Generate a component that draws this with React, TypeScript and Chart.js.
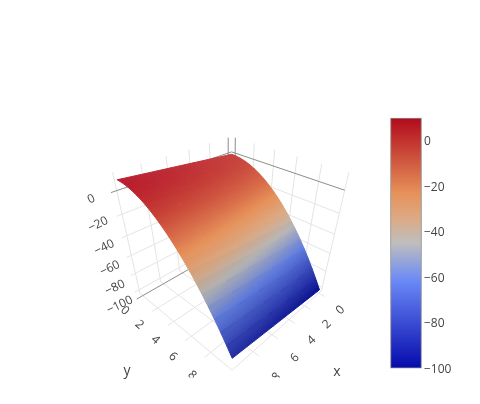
import React, { useEffect, useRef } from "react";
import { Chart, registerables } from "chart.js";

Chart.register(...registerables);

const xColumns = [0, 2, 4, 6, 8, 10];
const yRows = [0, 0.5, 1, 1.5, 2, 2.5, 3, 3.5, 4, 4.5, 5, 5.5, 6, 6.5, 7, 7.5, 8, 8.5, 9, 9.5, 10];
const zRows = [
  [0, 2, 4, 6, 8, 10],
  [-0.25, 1.75, 3.75, 5.75, 7.75, 9.75],
  [-1, 1, 3, 5, 7, 9],
  [-2.25, -0.25, 1.75, 3.75, 5.75, 7.75],
  [-4, -2, 0, 2, 4, 6],
  [-6.25, -4.25, -2.25, -0.25, 1.75, 3.75],
  [-9, -7, -5, -3, -1, 1],
  [-12.25, -10.25, -8.25, -6.25, -4.25, -2.25],
  [-16, -14, -12, -10, -8, -6],
  [-20.25, -18.25, -16.25, -14.25, -12.25, -10.25],
  [-25, -23, -21, -19, -17, -15],
  [-30.25, -28.25, -26.25, -24.25, -22.25, -20.25],
  [-36, -34, -32, -30, -28, -26],
  [-42.25, -40.25, -38.25, -36.25, -34.25, -32.25],
  [-49, -47, -45, -43, -41, -39],
  [-56.25, -54.25, -52.25, -50.25, -48.25, -46.25],
  [-64, -62, -60, -58, -56, -54],
  [-72.25, -70.25, -68.25, -66.25, -64.25, -62.25],
  [-81, -79, -77, -75, -73, -71],
  [-90.25, -88.25, -86.25, -84.25, -82.25, -80.25],
  [-100, -98, -96, -94, -92, -90],
];
const xTicks = [0, 2, 4, 6, 8];
const yTicks = [0, 2, 4, 6, 8];
const xGrid = [0, 2, 4, 6, 8, 10];
const yGrid = [0, 2, 4, 6, 8, 10];
const zTicks = [0, -20, -40, -60, -80, -100];
const colorStops: [number, number[]][] = [
  [0, [5, 10, 172]],
  [0.35, [106, 137, 247]],
  [0.5, [190, 190, 190]],
  [0.6, [220, 170, 132]],
  [0.7, [230, 145, 90]],
  [1, [178, 10, 28]],
];
const zMin = -100;
const zMax = 10;
const loX = -0.4, loY = -0.4, loZ = -104.4, hiZ = 14.4;

// Camera calibration: world point -> page pixel
const calib: number[][] = [
  [0, 10, -100, 320, 294],
  [10, 10, -90, 232, 367],
  [10, 0, 10, 117, 177],
  [0, 0, 0, 232, 151],
  [10, loY, hiZ, 113, 172],
  [0, loY, hiZ, 228, 135],
  [loX, 0, hiZ, 235, 135],
  [loX, 10, hiZ, 349, 171],
  [10, 10, loZ, 232, 377],
  [10, loY, loZ, 140, 298],
  [loX, 10, loZ, 321, 295],
];

function solveCamera(): number[] {
  const rows: number[][] = [];
  const rhs: number[] = [];
  for (const [x, y, z, u0, v0] of calib) {
    const X = x / 10, Y = y / 10, Z = (z + 100) / 100, u = u0 / 100, v = v0 / 100;
    rows.push([X, Y, Z, 1, 0, 0, 0, 0, -u * X, -u * Y, -u * Z]);
    rhs.push(u);
    rows.push([0, 0, 0, 0, X, Y, Z, 1, -v * X, -v * Y, -v * Z]);
    rhs.push(v);
  }
  const n = 11;
  const A: number[][] = [];
  for (let i = 0; i < n; i++) {
    const line = new Array(n + 1).fill(0);
    rows.forEach((r, k) => {
      for (let j = 0; j < n; j++) line[j] += r[i] * r[j];
      line[n] += r[i] * rhs[k];
    });
    A.push(line);
  }
  for (let i = 0; i < n; i++) {
    let best = i;
    for (let k = i + 1; k < n; k++) if (Math.abs(A[k][i]) > Math.abs(A[best][i])) best = k;
    [A[i], A[best]] = [A[best], A[i]];
    for (let k = 0; k < n; k++) {
      if (k === i) continue;
      const f = A[k][i] / A[i][i];
      for (let j = i; j <= n; j++) A[k][j] -= f * A[i][j];
    }
  }
  return A.map((l, i) => l[n] / l[i]);
}

const cam = solveCamera();
function project(x: number, y: number, z: number) {
  const X = x / 10, Y = y / 10, Z = (z + 100) / 100;
  const w = cam[8] * X + cam[9] * Y + cam[10] * Z + 1;
  return {
    x: (100 * (cam[0] * X + cam[1] * Y + cam[2] * Z + cam[3])) / w,
    y: (100 * (cam[4] * X + cam[5] * Y + cam[6] * Z + cam[7])) / w,
  };
}

// Surface lighting: flat top washes out a little, steep bottom falls darker.
function shade(c: number[], y: number) {
  const t = y / 10;
  if (t < 0.4) {
    const m = 0.09 * (1 - t / 0.4);
    return c.map((v) => v + (255 - v) * m);
  }
  if (t > 0.6) {
    const m = 1 - 0.2 * ((t - 0.6) / 0.4);
    return c.map((v) => v * m);
  }
  return c;
}

function colorAt(z: number, y: number) {
  const t = Math.min(1, Math.max(0, (z - zMin) / (zMax - zMin)));
  let col = colorStops[colorStops.length - 1][1];
  for (let i = 1; i < colorStops.length; i++) {
    if (t <= colorStops[i][0]) {
      const [a, ca] = colorStops[i - 1];
      const [b, cb] = colorStops[i];
      const f = (t - a) / (b - a);
      col = ca.map((v, k) => v + (cb[k] - v) * f);
      break;
    }
  }
  const c = shade(col, y).map((v) => Math.round(v));
  return `rgb(${c[0]},${c[1]},${c[2]})`;
}

const GRID = "rgb(228,228,228)";
const ZERO = "rgb(140,140,140)";

function lineSet(a: number[], b: number[], color: string, order: number) {
  return {
    type: "scatter",
    showLine: true,
    data: [project(a[0], a[1], a[2]), project(b[0], b[1], b[2])],
    borderColor: color,
    borderWidth: 1,
    pointRadius: 0,
    fill: false,
    order,
  };
}

function gridSets() {
  const out: any[] = [];
  const floorEnd = (v: number) => (v === 10 ? 10 : 10.55);
  for (const v of xGrid) {
    const c = v === 0 ? ZERO : GRID;
    const o = v === 0 ? 900 : 1000;
    out.push(lineSet([v, loY, loZ], [v, loY, hiZ], c, o));
    out.push(lineSet([v, loY, loZ], [v, floorEnd(v), loZ], GRID, 1000));
  }
  for (const v of yGrid) {
    const c = v === 0 ? ZERO : GRID;
    const o = v === 0 ? 900 : 1000;
    out.push(lineSet([loX, v, loZ], [loX, v, hiZ], c, o));
    out.push(lineSet([loX, v, loZ], [floorEnd(v), v, loZ], c, o));
  }
  for (const v of zTicks) {
    const c = v === 0 ? ZERO : GRID;
    const o = v === 0 ? 900 : 1000;
    out.push(lineSet([loX, loY, v], [10.4, loY, v], c, o));
    out.push(lineSet([loX, loY, v], [loX, 10, v], c, o));
  }
  return out;
}

function surfaceSets(ctx: CanvasRenderingContext2D) {
  const out: any[] = [];
  for (let r = 0; r < yRows.length - 1; r++) {
    for (let c = 0; c < xColumns.length - 1; c++) {
      const za = zRows[r][c], zb = zRows[r][c + 1], zc = zRows[r + 1][c], zd = zRows[r + 1][c + 1];
      const A = project(xColumns[c], yRows[r], za);
      const B = project(xColumns[c + 1], yRows[r], zb);
      const D = project(xColumns[c + 1], yRows[r + 1], zd);
      const C = project(xColumns[c], yRows[r + 1], zc);
      const e1 = [(B.x + D.x - A.x - C.x) / 2, (B.y + D.y - A.y - C.y) / 2];
      const e2 = [(C.x + D.x - A.x - B.x) / 2, (C.y + D.y - A.y - B.y) / 2];
      const det = e1[0] * e2[1] - e1[1] * e2[0];
      const dz1 = (zb + zd - za - zc) / 2, dz2 = (zc + zd - za - zb) / 2;
      const gx = (dz1 * e2[1] - dz2 * e1[1]) / det;
      const gy = (e1[0] * dz2 - e2[0] * dz1) / det;
      const g2 = gx * gx + gy * gy;
      const mx = (A.x + B.x + C.x + D.x) / 4, my = (A.y + B.y + C.y + D.y) / 4;
      const zm = (za + zb + zc + zd) / 4;
      const lo = Math.min(za, zb, zc, zd), hi = Math.max(za, zb, zc, zd);
      const grad = ctx.createLinearGradient(
        mx + ((lo - zm) * gx) / g2,
        my + ((lo - zm) * gy) / g2,
        mx + ((hi - zm) * gx) / g2,
        my + ((hi - zm) * gy) / g2
      );
      const yMid = (yRows[r] + yRows[r + 1]) / 2;
      for (let k = 0; k <= 4; k++) {
        grad.addColorStop(k / 4, colorAt(lo + ((hi - lo) * k) / 4, yMid));
      }
      out.push({
        type: "scatter",
        showLine: true,
        data: [A, B, D, C, A],
        fill: "shape",
        backgroundColor: grad,
        borderColor: grad,
        borderWidth: 1,
        pointRadius: 0,
        order: 500 - r,
      });
    }
  }
  return out;
}

const FONT = '12px "Open Sans"';
const TEXT = "#444";
const tickText = (v: number) => (v < 0 ? "\u2212" + Math.abs(v) : String(v));

const sceneText = {
  id: "sceneText",
  afterDatasetsDraw(chart: any) {
    const c = chart.ctx as CanvasRenderingContext2D;
    c.save();
    c.beginPath();
    c.rect(0, 0, 480, 377.5);
    c.clip();
    c.fillStyle = TEXT;
    c.font = FONT;
    c.textAlign = "center";
    c.textBaseline = "middle";
    const put = (s: string, p: { x: number; y: number }, deg: number) => {
      c.save();
      c.translate(p.x, p.y);
      c.rotate((deg * Math.PI) / 180);
      c.fillText(s, 0, 0);
      c.restore();
    };
    for (const v of xTicks) put(tickText(v), project(v, 12.0, loZ), -43);
    for (const v of yTicks) put(tickText(v), project(11.6, v, loZ), 42);
    for (const v of zTicks) put(tickText(v), project(11.7, loY, v), -26);
    c.restore();
    c.save();
    c.fillStyle = TEXT;
    c.font = '14px "Open Sans"';
    c.textAlign = "center";
    c.textBaseline = "middle";
    c.fillText("y", 127, 371);
    c.fillText("x", 337, 372);
    c.restore();
  },
};

export default function App() {
  const ref = useRef<HTMLCanvasElement>(null);
  useEffect(() => {
    const canvas = ref.current!;
    const ctx = canvas.getContext("2d")!;
    const colorbar = {
      type: "bar",
      xAxisID: "x",
      yAxisID: "zbar",
      data: [{ x: 406, y: [zMin, zMax] }],
      barThickness: 31,
      borderSkipped: false,
      borderWidth: 1,
      borderColor: "rgb(136,136,136)",
      backgroundColor: (cx: any) => {
        const s = cx.chart.scales.zbar;
        const a = s ? s.getPixelForValue(zMin) : NaN;
        const b = s ? s.getPixelForValue(zMax) : NaN;
        if (!Number.isFinite(a) || !Number.isFinite(b)) return "#888";
        const g = ctx.createLinearGradient(0, a, 0, b);
        for (const [t, col] of colorStops) g.addColorStop(t, `rgb(${col[0]},${col[1]},${col[2]})`);
        return g;
      },
      order: 0,
    };
    const chart = new Chart(canvas, {
      type: "scatter",
      data: { datasets: [...gridSets(), ...surfaceSets(ctx), colorbar] as any },
      plugins: [sceneText],
      options: {
        animation: false,
        responsive: false,
        layout: { padding: 0, autoPadding: false },
        plugins: { legend: { display: false }, tooltip: { enabled: false }, title: { display: false } },
        scales: {
          x: { type: "linear", display: false, min: 0, max: 422, offset: false },
          y: { type: "linear", display: false, min: 0, max: 404, reverse: true },
          zbar: {
            type: "linear",
            position: "right",
            min: -111.67,
            max: 57.93,
            grid: { display: false, drawTicks: false },
            border: { display: false },
            afterBuildTicks: (s: any) => {
              s.ticks = zTicks.map((value) => ({ value }));
            },
            afterFit: (s: any) => {
              s.width = 58;
            },
            ticks: {
              padding: 2,
              labelOffset: 1,
              color: TEXT,
              autoSkip: false,
              font: { family: "Open Sans", size: 12 },
              callback: (v: any) => tickText(Number(v)),
            },
          },
        },
      } as any,
    } as any);
    return () => chart.destroy();
  }, []);
  return (
    <div style={{ position: "absolute", left: 0, top: 0, width: 480, height: 404 }}>
      <canvas ref={ref} width={480} height={404} style={{ display: "block" }} />
    </div>
  );
}
